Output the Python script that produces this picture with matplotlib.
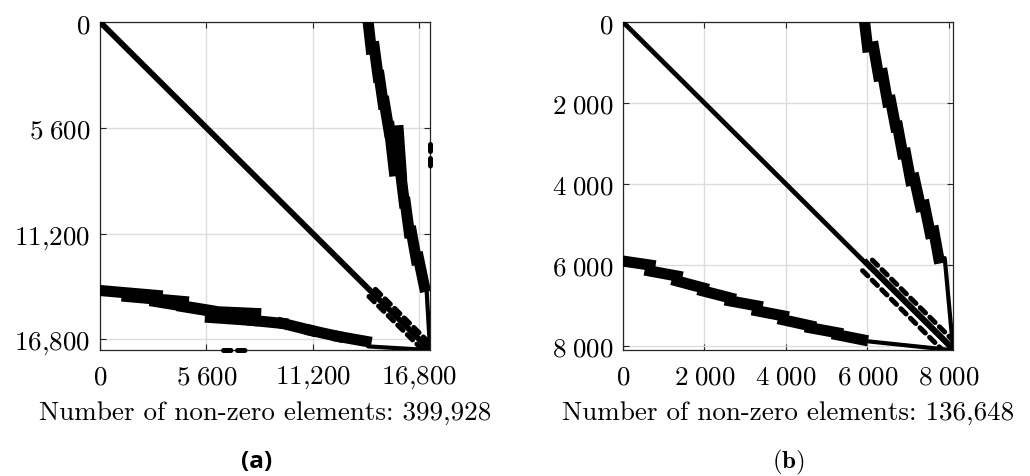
import matplotlib
matplotlib.use("Agg")
import matplotlib.pyplot as plt

plt.rcParams["mathtext.fontset"] = "cm"
plt.rcParams["axes.unicode_minus"] = False

# ---- panel (a) ----
A_SIZE = 17360
A_TICKS = [0, 5600, 11200, 16800]
A_TICK_LABELS = [r"$0$", r"$5\;600$", r"$11{,}200$", r"$16{,}800$"]
A_NNZ = "399,928"
# blocks of the band above the diagonal: (col0, row0, col1, row1)
A_UPPER_BAND = [
    (14106, 0, 14264, 1426),
    (14423, 1321, 14634, 2906),
    (14687, 2853, 14898, 4332),
    (14951, 4226, 15215, 5811),
    (15215, 5547, 15479, 7872),
    (15690, 5758, 15849, 8030),
    (15796, 7819, 16007, 9562),
    (16060, 9562, 16271, 11146),
    (16377, 11094, 16641, 12573),
    (16747, 12467, 17064, 14000),
]
A_UPPER_TAIL = (17170, 14000, 17360, 17300)
# blocks of the band below the diagonal
A_LOWER_BAND = [
    (0, 14211, 3011, 14475),
    (1426, 14528, 4385, 14792),
    (2906, 14792, 5811, 15268),
    (4332, 15057, 5917, 15320),
    (5811, 15320, 8188, 15426),
    (5811, 15638, 8030, 15796),
    (8030, 15796, 9615, 15955),
    (9615, 15955, 11094, 16324),
    (11094, 16324, 12520, 16641),
    (12520, 16641, 14000, 16905),
]
A_LOWER_TAIL = (14106, 17170, 17300, 17360)
A_DASH_START = 14150
A_DASH_OFFSETS = [-380, 340]
A_ISOLATED = [
    (17360, 6450, 17360, 6820),
    (17360, 7180, 17360, 7600),
    (6450, 17360, 7000, 17360),
    (7230, 17360, 7660, 17360),
]

# ---- panel (b) ----
B_SIZE = 8100
B_TICKS = [0, 2000, 4000, 6000, 8000]
B_TICK_LABELS = [r"$0$", r"$2\;000$", r"$4\;000$", r"$6\;000$", r"$8\;000$"]
B_NNZ = "136,648"
B_UPPER_BAND = [
    (5929, 0, 6002, 615),
    (6150, 615, 6273, 1328),
    (6371, 1279, 6494, 1968),
    (6568, 1943, 6691, 2583),
    (6740, 2583, 6863, 3247),
    (6937, 3247, 7060, 3911),
    (7150, 3862, 7300, 4551),
    (7400, 4526, 7540, 5215),
    (7630, 5166, 7749, 5830),
]
B_UPPER_TAIL = (7897, 5830, 8100, 8050)
B_LOWER_BAND = [
    (0, 5904, 664, 6002),
    (664, 6150, 1328, 6273),
    (1328, 6396, 1968, 6568),
    (1968, 6642, 2632, 6814),
    (2632, 6888, 3296, 7011),
    (3296, 7134, 3936, 7257),
    (3936, 7355, 4600, 7503),
    (4600, 7552, 5264, 7675),
    (5264, 7724, 5879, 7847),
]
B_LOWER_TAIL = (5879, 7872, 8050, 8100)
B_DASH_START = 5880
B_DASH_OFFSETS = [-260, 240]
B_INNER_OFFSETS = [90]
B_ISOLATED = []

INK = "black"


def draw_blocks(ax, blocks, lw, cap="butt"):
    for c0, r0, c1, r1 in blocks:
        ax.plot([c0, c1], [r0, r1], color=INK, lw=lw, solid_capstyle=cap, zorder=3)


def draw_offset_diagonals(ax, n, start, offsets, lw, dashed):
    for k in offsets:
        r0 = start if k >= 0 else start - k
        r1 = n - k if k >= 0 else n
        style = dict(ls=(0, (1.5, 1.2)), dash_capstyle="round") if dashed else dict(ls="-")
        ax.plot([r0 + k, r1 + k], [r0, r1], color=INK, lw=lw, zorder=3, **style)


def plot_pattern(ax, n, ticks, tick_labels, nnz, upper, upper_tail, lower, lower_tail,
                 dash_start, dash_offsets, isolated, diag_lw, inner_offsets=()):
    ax.plot([0, n], [0, n], color=INK, lw=diag_lw, solid_capstyle="round", zorder=3)
    draw_blocks(ax, upper, 8.0, "projecting")
    draw_blocks(ax, lower, 8.0, "projecting")
    draw_blocks(ax, [upper_tail, lower_tail], 3.0, "round")
    draw_offset_diagonals(ax, n, dash_start, dash_offsets, 3.6, True)
    draw_offset_diagonals(ax, n, dash_start, inner_offsets, 1.8, False)
    for c0, r0, c1, r1 in isolated:
        ax.plot([c0, c1], [r0, r1], color=INK, lw=3.6, ls=(0, (1.5, 1.2)),
                dash_capstyle="round", zorder=3, clip_on=False)

    ax.set_xlim(0, n)
    ax.set_ylim(n, 0)
    ax.set_xticks(ticks)
    ax.set_yticks(ticks)
    ax.set_xticklabels(tick_labels)
    ax.set_yticklabels(tick_labels)
    ax.tick_params(direction="in", length=4, width=0.8, color="#262626",
                   top=True, right=True, labelsize=19.5)
    ax.tick_params(axis="x", pad=10)
    ax.tick_params(axis="y", pad=7)
    ax.grid(True, color="#dcdcdc", lw=1.0, zorder=0)
    ax.set_axisbelow(True)
    for sp in ax.spines.values():
        sp.set_color("#262626")
        sp.set_linewidth(0.9)
    ax.set_xlabel("Number of non-zero elements: " + nnz, fontfamily="cmr10",
                  fontsize=19.5, labelpad=7)


def main():
    fig = plt.figure(figsize=(10.30, 4.77), dpi=100)
    ax_a = fig.add_axes([100 / 1030, 1 - 351 / 477, 330 / 1030, 328 / 477])
    ax_b = fig.add_axes([623 / 1030, 1 - 351 / 477, 330 / 1030, 328 / 477])

    plot_pattern(ax_a, A_SIZE, A_TICKS, A_TICK_LABELS, A_NNZ, A_UPPER_BAND, A_UPPER_TAIL,
                 A_LOWER_BAND, A_LOWER_TAIL, A_DASH_START, A_DASH_OFFSETS, A_ISOLATED, 4.2)
    plot_pattern(ax_b, B_SIZE, B_TICKS, B_TICK_LABELS, B_NNZ, B_UPPER_BAND, B_UPPER_TAIL,
                 B_LOWER_BAND, B_LOWER_TAIL, B_DASH_START, B_DASH_OFFSETS, B_ISOLATED, 3.4,
                 B_INNER_OFFSETS)

    fig.text(257 / 1030, 1 - 462 / 477, "(a)", family="Open Sans", weight="bold",
             fontsize=17.5, ha="center", va="center")
    fig.text(788 / 1030, 1 - 462 / 477, r"$\mathbf{(b)}$", fontsize=18,
             ha="center", va="center")

    fig.savefig("out.png", dpi=100)


if __name__ == "__main__":
    main()
